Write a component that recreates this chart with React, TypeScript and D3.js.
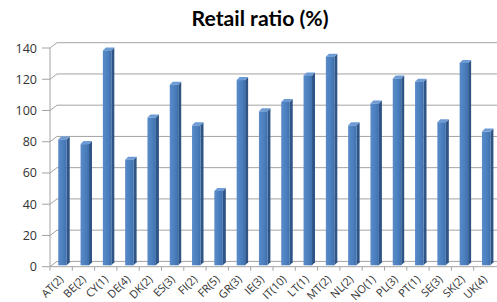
import React from "react";
import * as d3 from "d3";

// countries (number of institutions)
const categories = [
  "AT(2)", "BE(2)", "CY(1)", "DE(4)", "DK(2)", "ES(3)", "FI(2)", "FR(5)", "GR(3)", "IE(3)",
  "IT(10)", "LT(1)", "MT(2)", "NL(2)", "NO(1)", "PL(3)", "PT(1)", "SE(3)", "SK(2)", "UK(4)",
];
const values = [80, 77, 137, 67, 94, 115, 89, 47, 118, 98, 104, 121, 133, 89, 103, 119, 117, 91, 129, 85];
const yTicks = [0, 20, 40, 60, 80, 100, 120, 140];

const W = 497;
const H = 302;

export default function App() {
  // front edge of the floor / axis
  const yF = d3.scaleLinear().domain([0, 140]).range([266.7, 48]);
  const x = d3.scaleBand<string>().domain(categories).range([50, 496]);
  const step = x.step();

  // 3d offsets
  const wallDx = 7;
  const wallDy = -5.3;
  const yB = (v: number) => yF(v) + wallDy;

  const faceW = step * 0.38;
  const sideD = 3;
  const barBottom = 265.3;

  const grid = "#a3a3a3";
  const text = "#333333";

  return (
    <svg
      width={W}
      height={H}
      style={{ position: "absolute", left: 0, top: 0, background: "#fff" }}
    >
      <defs>
        <linearGradient id="face" x1="0" x2="1" y1="0" y2="0">
          <stop offset="0%" stopColor="#5a8bc9" />
          <stop offset="60%" stopColor="#4a7ebd" />
          <stop offset="100%" stopColor="#3f70ad" />
        </linearGradient>
      </defs>

      {/* title */}
      <text
        x={260}
        y={26}
        textAnchor="middle"
        fontFamily="Lato, 'Open Sans', sans-serif"
        fontWeight="bold"
        fontSize={20}
        textLength={137}
        lengthAdjust="spacingAndGlyphs"
        fill="#000"
      >
        Retail ratio (%)
      </text>

      {/* back wall gridlines with the slanted side-wall part */}
      {yTicks.map((t) => (
        <g key={t}>
          <line x1={50} y1={yF(t)} x2={50 + wallDx} y2={yB(t)} stroke={grid} />
          <line x1={50 + wallDx} y1={yB(t)} x2={W} y2={yB(t)} stroke={grid} />
          <line x1={42} y1={yF(t)} x2={50} y2={yF(t)} stroke={grid} />
          <text
            x={37}
            y={yF(t) + 4.5}
            textAnchor="end"
            fontFamily="'Open Sans', sans-serif"
            fontSize={12.5}
            fill={text}
          >
            {t}
          </text>
        </g>
      ))}

      {/* axis line and floor */}
      <line x1={50} y1={yF(140)} x2={50} y2={yF(0)} stroke={grid} />
      <line x1={50} y1={yF(0)} x2={W} y2={yF(0)} stroke={grid} />

      {/* category ticks */}
      {categories.map((c) => (
        <line key={c} x1={x(c)!} y1={yF(0)} x2={x(c)!} y2={yF(0) + 4} stroke={grid} />
      ))}

      {/* bars */}
      {categories.map((c, i) => {
        const bx = (x(c) as number) + step * 0.37;
        const top = yB(values[i]) + sideD;
        return (
          <g key={c}>
            <polygon
              points={`${bx + faceW},${top} ${bx + faceW + sideD},${top - sideD} ${bx + faceW + sideD},${barBottom - sideD} ${bx + faceW},${barBottom}`}
              fill="#2f5587"
            />
            <polygon
              points={`${bx},${top} ${bx + faceW},${top} ${bx + faceW + sideD},${top - sideD} ${bx + sideD},${top - sideD}`}
              fill="#6d9bd6"
            />
            <rect x={bx} y={top} width={faceW} height={barBottom - top} fill="url(#face)" />
          </g>
        );
      })}

      {/* category labels */}
      {categories.map((c) => {
        const cx = (x(c) as number) + step / 2 + 3;
        const cy = 280;
        return (
          <text
            key={c}
            transform={`translate(${cx},${cy}) rotate(-45)`}
            textAnchor="end"
            fontFamily="'Open Sans', sans-serif"
            fontSize={11}
            fill={text}
          >
            {c}
          </text>
        );
      })}
    </svg>
  );
}
